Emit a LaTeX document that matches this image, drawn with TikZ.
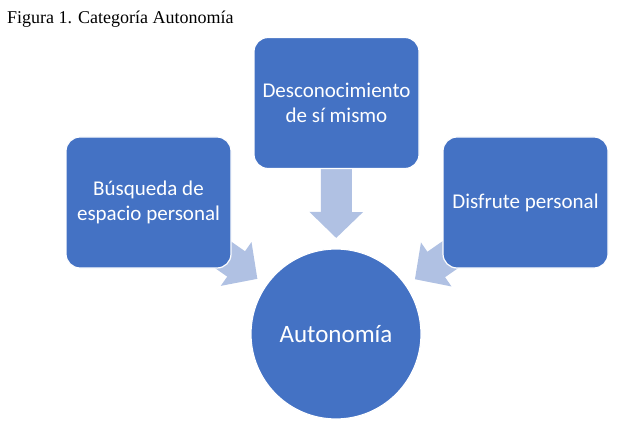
\documentclass[tikz,border=0pt]{standalone}
\usepackage{fontspec}
\setmainfont{Liberation Serif}
\newfontfamily\calibri{Carlito}
\usetikzlibrary{arrows.meta,backgrounds}
\definecolor{boxblue}{RGB}{68,114,196}
\definecolor{arrowblue}{RGB}{176,193,227}
\tikzset{
  catbox/.style={draw=white,line width=1.2pt,fill=boxblue,rounded corners=14pt,
    minimum width=165pt,minimum height=131pt,inner sep=0pt,text=white,align=center,
    font=\calibri\fontsize{21}{25.5}\selectfont},
  catcircle/.style={circle,draw=white,line width=1.2pt,fill=boxblue,minimum size=170pt,
    inner sep=0pt,text=white,font=\calibri\fontsize{25}{30}\selectfont},
  blockarrow/.style={arrowblue,line width=31pt,-{Triangle[width=52pt,length=26pt]},shorten >=96pt}
}
\begin{document}
\begin{tikzpicture}[x=1pt,y=-1pt]
\useasboundingbox (0,0) rectangle (623,430);
\node[anchor=base west,inner sep=0pt,font=\fontsize{18}{20}\selectfont] (title) at (7,24) {Figura 1. Categoría Autonomía};
\node[catbox] (espacio) at (148.5,202.5) {Búsqueda de\\espacio personal};
\node[catbox] (desconoc) at (336.5,103) {Desconocimiento\\de sí mismo};
\node[catbox] (disfrute) at (525.5,202.5) {Disfrute personal};
\node[catcircle] (auto) at (336,334) {Autonomía};
\begin{scope}[on background layer]
\draw[blockarrow] (espacio.center) -- (auto.center);
\draw[blockarrow] (desconoc.center) -- (auto.center);
\draw[blockarrow] (disfrute.center) -- (auto.center);
\end{scope}
\end{tikzpicture}
\end{document}
